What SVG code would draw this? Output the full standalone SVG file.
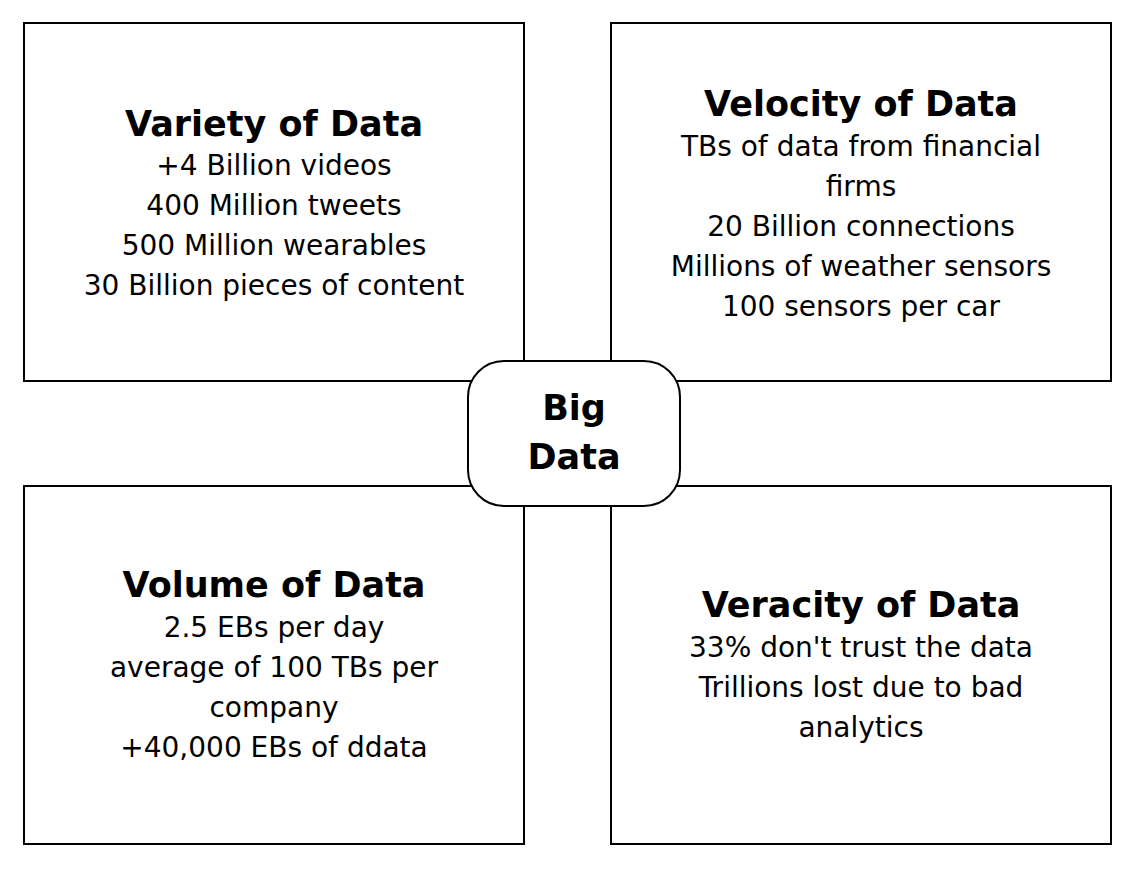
<svg xmlns="http://www.w3.org/2000/svg" width="1136" height="869" viewBox="0 0 1136 869">
<style>
rect{fill:#fff;stroke:#000;stroke-width:2}
text{font-family:"DejaVu Sans",sans-serif;text-anchor:middle;fill:#000}
.t{font-size:35px;font-weight:bold}
.b{font-size:28px}
</style>
<rect x="0" y="0" width="1136" height="869" style="stroke:none"/>
<g id="variety"><rect x="24" y="23" width="500" height="358"/>
<text class="t" x="274" y="136">Variety of Data</text>
<text class="b" x="274" y="175">+4 Billion videos</text>
<text class="b" x="274" y="215">400 Million tweets</text>
<text class="b" x="274" y="255">500 Million wearables</text>
<text class="b" x="274" y="295">30 Billion pieces of content</text></g>
<g id="velocity"><rect x="611" y="23" width="500" height="358"/>
<text class="t" x="861" y="116">Velocity of Data</text>
<text class="b" x="861" y="156">TBs of data from financial</text>
<text class="b" x="861" y="196">firms</text>
<text class="b" x="861" y="236">20 Billion connections</text>
<text class="b" x="861" y="276">Millions of weather sensors</text>
<text class="b" x="861" y="316">100 sensors per car</text></g>
<g id="volume"><rect x="24" y="486" width="500" height="358"/>
<text class="t" x="274" y="597">Volume of Data</text>
<text class="b" x="274" y="637">2.5 EBs per day</text>
<text class="b" x="274" y="677">average of 100 TBs per</text>
<text class="b" x="274" y="717">company</text>
<text class="b" x="274" y="757">+40,000 EBs of ddata</text></g>
<g id="veracity"><rect x="611" y="486" width="500" height="358"/>
<text class="t" x="861" y="617">Veracity of Data</text>
<text class="b" x="861" y="657">33% don't trust the data</text>
<text class="b" x="861" y="697">Trillions lost due to bad</text>
<text class="b" x="861" y="737">analytics</text></g>
<g id="connectors"></g>
<g id="bigdata"><rect x="468" y="361" width="212" height="145" rx="36"/>
<text class="t" x="574" y="420">Big</text>
<text class="t" x="574" y="469">Data</text></g>
</svg>
